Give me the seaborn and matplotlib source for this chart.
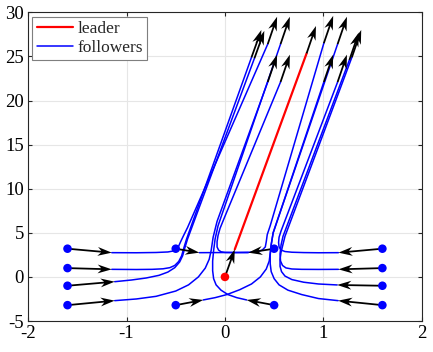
import numpy as np
import pandas as pd
import seaborn as sns
import matplotlib.pyplot as plt
from matplotlib.lines import Line2D

# leader
leader_start = (0.0, 0.0)
leader_path_x = [0.10, 0.83]
leader_path_y = [3.13, 25.35]
leader_tip = (0.925, 28.45)

# followers: L1..L4, ML, BL, R1..R4, MR, BR
start_x = [-1.6, -1.6, -1.6, -1.6, -0.5, -0.5, 1.6, 1.6, 1.6, 1.6, 0.5, 0.5]
start_y = [3.2, 1.0, -1.0, -3.2, 3.2, -3.2, 3.2, 1.0, -1.0, -3.2, 3.2, -3.2]

path_x = [
    [-1.15, -0.9, -0.7, -0.58, -0.52, -0.49, -0.47, -0.45, -0.42, -0.38, 0.435],
    [-1.15, -0.9, -0.74, -0.63, -0.56, -0.51, -0.47, -0.44, -0.42, -0.39, 0.27],
    [-1.12, -0.95, -0.8, -0.67, -0.58, -0.51, -0.46, -0.43, -0.41, -0.38, 0.30],
    [-1.12, -0.9, -0.7, -0.5, -0.37, -0.27, -0.2, -0.16, -0.14, -0.12, -0.08, 0.435],
    [-0.26, -0.1, 0.1, 0.25, 0.33, 0.38, 0.41, 0.42, 0.43, 0.46, 1.005],
    [-0.22, -0.1, 0.02, 0.15, 0.27, 0.36, 0.42, 0.45, 0.46, 0.47, 0.49, 1.005],
    [1.153, 0.95, 0.8, 0.68, 0.61, 0.57, 0.55, 0.545, 0.55, 0.57, 1.145],
    [1.153, 0.95, 0.78, 0.68, 0.62, 0.585, 0.565, 0.56, 0.57, 0.59, 1.265],
    [1.14, 0.95, 0.8, 0.68, 0.61, 0.575, 0.56, 0.56, 0.57, 0.59, 0.61, 1.29],
    [1.15, 0.95, 0.78, 0.64, 0.55, 0.5, 0.47, 0.46, 0.46, 0.47, 0.49, 1.145],
    [0.237, 0.1, 0.0, -0.04, -0.065, -0.08, -0.08, -0.07, -0.05, -0.01, 0.565],
    [0.22, 0.12, 0.03, -0.04, -0.09, -0.115, -0.125, -0.125, -0.115, -0.1, -0.07, 0.565],
]
path_y = [
    [2.75, 2.74, 2.77, 2.83, 2.95, 3.15, 3.5, 4.0, 4.7, 5.6, 26.4],
    [0.86, 0.84, 0.86, 0.92, 1.05, 1.3, 1.75, 2.4, 3.2, 4.3, 24.9],
    [-0.54, -0.35, -0.12, 0.18, 0.55, 1.05, 1.7, 2.4, 3.2, 4.3, 24.8],
    [-2.69, -2.5, -2.2, -1.6, -0.9, 0.0, 1.0, 2.0, 3.0, 4.5, 6.3, 22.1],
    [2.75, 2.76, 2.77, 2.8, 2.87, 3.05, 3.4, 4.0, 4.8, 5.8, 26.5],
    [-2.61, -2.35, -2.0, -1.45, -0.8, 0.0, 0.9, 1.8, 2.7, 3.7, 5.0, 22.1],
    [2.75, 2.74, 2.76, 2.8, 2.88, 3.05, 3.4, 3.9, 4.5, 5.2, 22.1],
    [0.86, 0.85, 0.86, 0.9, 1.02, 1.3, 1.8, 2.6, 3.6, 4.6, 24.6],
    [-0.91, -0.8, -0.6, -0.3, 0.1, 0.6, 1.2, 2.0, 2.8, 3.7, 4.6, 24.9],
    [-2.69, -2.45, -2.0, -1.5, -0.9, -0.2, 0.6, 1.5, 2.5, 3.6, 5.0, 26.4],
    [2.75, 2.76, 2.78, 2.85, 3.05, 3.4, 4.0, 4.7, 5.5, 6.6, 22.1],
    [-2.61, -2.35, -2.0, -1.5, -0.9, -0.2, 0.7, 1.8, 3.0, 4.3, 5.8, 26.4],
]

end_tip_x = [0.53, 0.37, 0.40, 0.53, 1.10, 1.10, 1.24, 1.36, 1.385, 1.24, 0.66, 0.66]
end_tip_y = [29.5, 28.0, 27.9, 25.2, 29.6, 25.2, 25.2, 27.7, 28.0, 29.5, 25.2, 29.5]

sns.set_style("ticks")
plt.rcParams['font.family'] = ['Liberation Serif', 'DejaVu Serif']
plt.rcParams['axes.unicode_minus'] = False

fig = plt.figure(figsize=(4.33, 3.52), dpi=100)
ax = fig.add_axes([0.065, 0.088, 0.909, 0.877])

rows = []
for i, (xs, ys) in enumerate(zip(path_x, path_y)):
    for x, y in zip(xs, ys):
        rows.append({"agent": i, "x": x, "y": y})
df = pd.DataFrame(rows)

sns.lineplot(data=df, x="x", y="y", units="agent", estimator=None, sort=False,
             color="blue", lw=1.1, ax=ax, legend=False)
sns.lineplot(x=leader_path_x, y=leader_path_y, color="red", lw=1.6, ax=ax,
             sort=False, estimator=None)

# arrows: start -> first path point, last path point -> end tip
ax_x0 = start_x + [p[-1] for p in path_x] + [leader_start[0], leader_path_x[-1]]
ax_y0 = start_y + [p[-1] for p in path_y] + [leader_start[1], leader_path_y[-1]]
ax_x1 = [p[0] for p in path_x] + end_tip_x + [leader_path_x[0], leader_tip[0]]
ax_y1 = [p[0] for p in path_y] + end_tip_y + [leader_path_y[0], leader_tip[1]]
u = np.array(ax_x1) - np.array(ax_x0)
v = np.array(ax_y1) - np.array(ax_y0)
ax.quiver(ax_x0, ax_y0, u, v, angles="xy", scale_units="xy", scale=1,
          color="black", width=0.0045, headwidth=5.0, headlength=8.0,
          headaxislength=6.0, zorder=4)

sns.scatterplot(x=start_x, y=start_y, color="blue", s=38, edgecolor="none", ax=ax, zorder=5)
sns.scatterplot(x=[leader_start[0]], y=[leader_start[1]], color="red", s=38,
                edgecolor="none", ax=ax, zorder=5)

ax.set_xlim(-2, 2)
ax.set_ylim(-5, 30)
ax.set_xticks([-2, -1, 0, 1, 2])
ax.set_yticks([-5, 0, 5, 10, 15, 20, 25, 30])
ax.set_xlabel("")
ax.set_ylabel("")
ax.grid(True, color="#e6e6e6", lw=0.8)
ax.set_axisbelow(True)
for s in ax.spines.values():
    s.set_color("#262626")
    s.set_linewidth(0.8)
ax.tick_params(direction="in", length=3, width=0.8, top=True, right=True,
               labelsize=13.5, colors="#262626", pad=3)
for lab in ax.get_xticklabels() + ax.get_yticklabels():
    lab.set_color("black")

handles = [Line2D([], [], color="red", lw=1.6), Line2D([], [], color="blue", lw=1.1)]
leg = ax.legend(handles, ["leader", "followers"], loc="upper left", fontsize=12.5,
                frameon=True, fancybox=False, framealpha=1, edgecolor="#7f7f7f",
                borderaxespad=0.25, handlelength=2.1, handletextpad=0.25,
                labelspacing=0.15, borderpad=0.25)
leg.get_frame().set_linewidth(0.8)

fig.savefig("out.png", dpi=100)
